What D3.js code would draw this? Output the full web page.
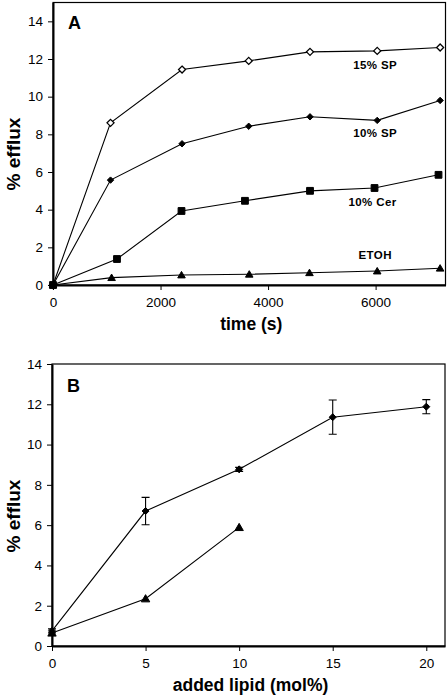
<!DOCTYPE html>
<html><head><meta charset="utf-8">
<script src="https://cdn.jsdelivr.net/npm/d3@7"></script>
<style>body{margin:0;background:#fff}svg{display:block}text{font-family:"Liberation Sans",Arial,sans-serif;fill:#000}</style>
</head><body>
<script>
// Panel A data
const timeTicks = [0, 2000, 4000, 6000];
const effluxTicks = [0, 2, 4, 6, 8, 10, 12, 14];
const tSP15 = [0, 1070, 2400, 3640, 4780, 6030, 7200];
const vSP15 = [0, 8.61, 11.44, 11.90, 12.38, 12.43, 12.61];
const tSP10 = [0, 1070, 2400, 3640, 4780, 6030, 7200];
const vSP10 = [0, 5.57, 7.50, 8.43, 8.93, 8.74, 9.80];
const tCer = [0, 1190, 2390, 3570, 4780, 5980, 7170];
const vCer = [0, 1.38, 3.93, 4.47, 5.00, 5.15, 5.85];
const tEtoh = [0, 1090, 2390, 3650, 4770, 6030, 7200];
const vEtoh = [0, 0.39, 0.53, 0.57, 0.65, 0.74, 0.89];
const seriesNames = ["15% SP", "10% SP", "10% Cer", "ETOH"];
// Panel B data
const lipidTicks = [0, 5, 10, 15, 20];
const lipidSP = [0, 5, 10, 15, 20];
const vSPB = [0.75, 6.70, 8.77, 11.36, 11.88];
const eSPB = [0.10, 0.68, 0.10, 0.85, 0.35];
const lipidTri = [0, 5, 10];
const vTriB = [0.65, 2.35, 5.89];

const W = 448, H = 699;
const svg = d3.select("body").append("svg").attr("width", W).attr("height", H);

function marker(g, type, x, y, s) {
  let p;
  if (type === "diamond" || type === "odiamond") p = `M${x},${y-s}L${x+s},${y}L${x},${y+s}L${x-s},${y}Z`;
  else if (type === "square") p = `M${x-s},${y-s}h${2*s}v${2*s}h${-2*s}Z`;
  else p = `M${x},${y-s}L${x+s*1.05},${y+s*0.8}L${x-s*1.05},${y+s*0.8}Z`;
  g.append("path").attr("d", p)
    .attr("fill", type === "odiamond" ? "#fff" : "#000")
    .attr("stroke", "#000").attr("stroke-width", type === "odiamond" ? 1.3 : 1);
}

function panel(opts) {
  const {x, y, xTicks, yTicks, xTitle, xTitleY, letter, letterY, yTitleY} = opts;
  const g = svg.append("g");
  const [x0, x1] = x.range(), [y0, y1] = y.range();
  // frame
  g.append("rect").attr("x", x0).attr("y", y1).attr("width", x1 - x0).attr("height", y0 - y1)
    .attr("fill", "none").attr("stroke", "#000").attr("stroke-width", 1.2);
  const xa = g.append("g").attr("transform", `translate(0,${y0})`)
    .call(d3.axisBottom(x).tickValues(xTicks).tickFormat(d3.format("d")).tickSize(5).tickPadding(7).tickSizeOuter(0));
  const ya = g.append("g").attr("transform", `translate(${x0},0)`)
    .call(d3.axisLeft(y).tickValues(yTicks).tickFormat(d3.format("d")).tickSize(5).tickPadding(5).tickSizeOuter(0));
  [xa, ya].forEach(a => {
    a.select(".domain").attr("stroke", "#000").attr("stroke-width", 2);
    a.selectAll(".tick line").attr("stroke", "#000").attr("stroke-width", 1);
    a.selectAll("text").attr("font-size", 13.5).attr("font-family", "Liberation Sans, Arial, sans-serif").attr("fill", "#000");
  });
  g.append("text").attr("x", (x0 + x1) / 2 + 2).attr("y", xTitleY).attr("text-anchor", "middle")
    .attr("font-size", 17.5).attr("font-weight", "bold").text(xTitle);
  g.append("text").attr("transform", `translate(20,${yTitleY}) rotate(-90)`).attr("text-anchor", "middle")
    .attr("font-size", 19).attr("font-weight", "bold").text("% efflux");
  g.append("text").attr("x", x0 + 15).attr("y", letterY).attr("font-size", 18).attr("font-weight", "bold").text(letter);
  return g;
}

function series(g, xs, ys, xv, yv, type, s) {
  const pts = xv.map((d, i) => [xs(d), ys(yv[i])]);
  g.append("path").attr("d", d3.line()(pts)).attr("fill", "none").attr("stroke", "#000").attr("stroke-width", 1.1);
  const mg = g.append("g");
  pts.forEach(p => marker(mg, type, p[0], p[1], s));
  return pts;
}

// Panel A
const xA = d3.scaleLinear().domain([0, 7300]).range([53, 445.5]);
const yA = d3.scaleLinear().domain([0, 15]).range([285, 2.5]);
const gA = panel({x: xA, y: yA, xTicks: timeTicks, yTicks: effluxTicks, xTitle: "time (s)", xTitleY: 330,
  letter: "A", letterY: 28.5, yTitleY: 154});
const defsA = [
  [tSP15, vSP15, "odiamond", 3.5, 18],
  [tSP10, vSP10, "diamond", 3.2, 17],
  [tCer, vCer, "square", 3.4, 18],
  [tEtoh, vEtoh, "triangle", 3.6, -12]
];
defsA.forEach((d, i) => {
  const pts = series(gA, xA, yA, d[0], d[1], d[2], d[3]);
  gA.append("text").attr("x", pts[5][0] - 2).attr("y", pts[5][1] + d[4]).attr("text-anchor", "middle")
    .attr("font-size", 11.5).attr("font-weight", "bold").attr("letter-spacing", 0.4).text(seriesNames[i]);
});

// Panel B
const xB = d3.scaleLinear().domain([0, 21]).range([52, 445]);
const yB = d3.scaleLinear().domain([0, 14]).range([646, 364]);
const gB = panel({x: xB, y: yB, xTicks: lipidTicks, yTicks: effluxTicks, xTitle: "added lipid (mol%)", xTitleY: 691,
  letter: "B", letterY: 392, yTitleY: 516});
// error bars
lipidSP.forEach((d, i) => {
  const cx = xB(d), top = yB(vSPB[i] + eSPB[i]), bot = yB(vSPB[i] - eSPB[i]);
  gB.append("path").attr("d", `M${cx},${top}V${bot}M${cx-4},${top}h8M${cx-4},${bot}h8`)
    .attr("stroke", "#000").attr("stroke-width", 1.1).attr("fill", "none");
});
series(gB, xB, yB, lipidTri, vTriB, "triangle", 4);
series(gB, xB, yB, lipidSP, vSPB, "diamond", 3.5);
</script>
</body></html>
